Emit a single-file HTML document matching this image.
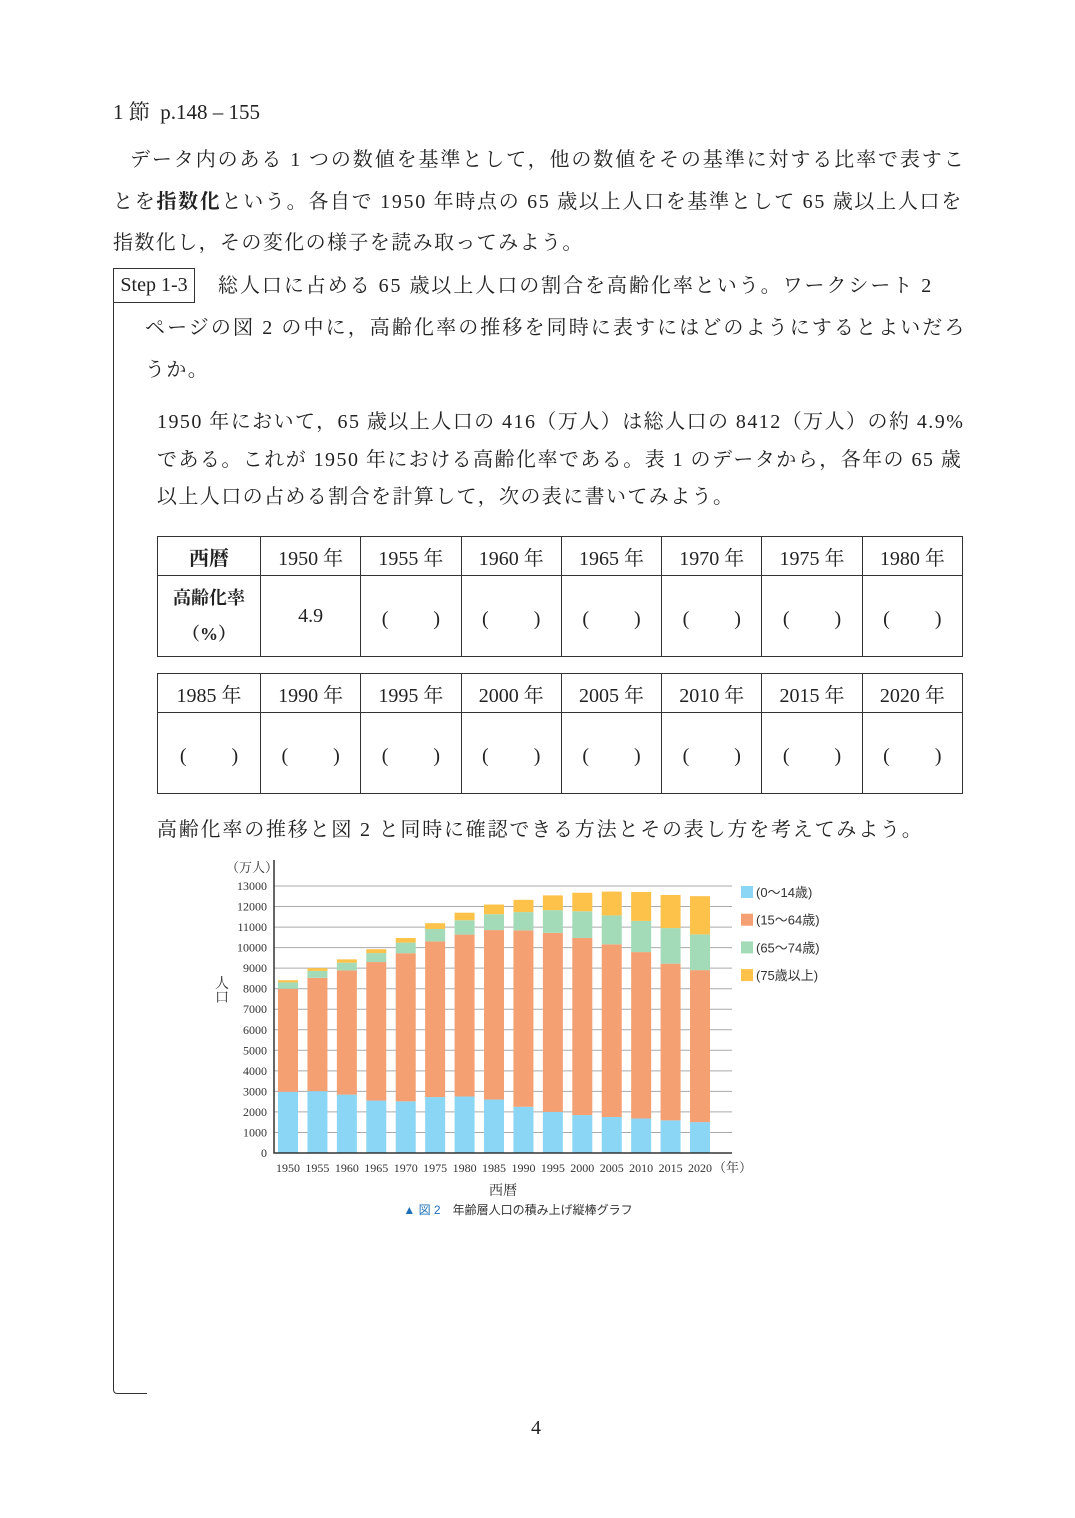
<!DOCTYPE html>
<html><head><meta charset="utf-8">
<style>
body{margin:0;width:1075px;height:1518px;background:#fff;position:relative;font-family:"Liberation Serif","Noto Serif CJK JP","Noto Serif CJK SC",serif;color:#222;}
.t{position:absolute;font-size:20px;white-space:nowrap;line-height:1;}
table{position:absolute;border-collapse:collapse;font-size:20px;}
td{border:1.5px solid #333;text-align:center;padding:0;}
</style></head><body>
<div class="t" style="left:113px;top:102px;font-size:21px">1 節&nbsp; p.148 – 155</div>
<div class="t" style="left:130px;top:150px;letter-spacing:1.9px">データ内のある 1 つの数値を基準として，他の数値をその基準に対する比率で表すこ</div>
<div class="t" style="left:113px;top:192px;letter-spacing:1.7px">とを<b>指数化</b>という。各自で 1950 年時点の 65 歳以上人口を基準として 65 歳以上人口を</div>
<div class="t" style="left:113px;top:233px;letter-spacing:1.4px">指数化し，その変化の様子を読み取ってみよう。</div>
<div style="position:absolute;left:113px;top:268px;width:80px;height:33px;border:1.5px solid #333;font-size:20px;line-height:33px;text-align:center;">Step 1-3</div>
<div class="t" style="left:218px;top:276px;letter-spacing:1.95px">総人口に占める 65 歳以上人口の割合を高齢化率という。ワークシート 2</div>
<div class="t" style="left:145px;top:318px;letter-spacing:2.1px">ページの図 2 の中に，高齢化率の推移を同時に表すにはどのようにするとよいだろ</div>
<div class="t" style="left:145px;top:360px;letter-spacing:1.4px">うか。</div>
<div style="position:absolute;left:113px;top:302px;width:33px;height:1091px;border-left:1.5px solid #333;border-bottom:1.5px solid #333;border-bottom-left-radius:4px"></div>
<div class="t" style="left:157px;top:412px;letter-spacing:1.45px">1950 年において，65 歳以上人口の 416（万人）は総人口の 8412（万人）の約 4.9%</div>
<div class="t" style="left:157px;top:450px;letter-spacing:1.45px">である。これが 1950 年における高齢化率である。表 1 のデータから，各年の 65 歳</div>
<div class="t" style="left:157px;top:487px;letter-spacing:1.4px">以上人口の占める割合を計算して，次の表に書いてみよう。</div>

<table style="left:157px;top:536px;width:806px">
<tr style="height:39px"><td style="width:102px"><b>西暦</b></td><td>1950 年</td><td>1955 年</td><td>1960 年</td><td>1965 年</td><td>1970 年</td><td>1975 年</td><td>1980 年</td></tr>
<tr style="height:81px"><td style="font-size:18px;line-height:36px"><b>高齢化率<br>（%）</b></td><td>4.9</td><td>(　　 )</td><td>(　　 )</td><td>(　　 )</td><td>(　　 )</td><td>(　　 )</td><td>(　　 )</td></tr>
</table>
<table style="left:157px;top:673px;width:806px">
<tr style="height:39px"><td style="width:102px">1985 年</td><td>1990 年</td><td>1995 年</td><td>2000 年</td><td>2005 年</td><td>2010 年</td><td>2015 年</td><td>2020 年</td></tr>
<tr style="height:81px"><td>(　　 )</td><td>(　　 )</td><td>(　　 )</td><td>(　　 )</td><td>(　　 )</td><td>(　　 )</td><td>(　　 )</td><td>(　　 )</td></tr>
</table>
<div class="t" style="left:157px;top:820px;letter-spacing:1.8px">高齢化率の推移と図 2 と同時に確認できる方法とその表し方を考えてみよう。</div>

<svg id="chart" style="position:absolute;left:0;top:0" width="1075" height="1518"></svg>
<div class="t" style="left:531px;top:1418px">4</div>

<script>
const years=[1950,1955,1960,1965,1970,1975,1980,1985,1990,1995,2000,2005,2010,2015,2020];
const age0_14=[2979,3012,2843,2553,2515,2722,2751,2603,2249,2001,1847,1752,1680,1589,1503];
const age15_64=[5017,5517,6047,6744,7212,7581,7883,8251,8590,8716,8622,8409,8103,7629,7400];
const age65_74=[309,338,375,438,516,602,699,773,892,1109,1301,1407,1517,1734,1742];
const age75up=[107,137,164,189,224,284,366,471,597,717,900,1160,1407,1612,1860];
const yTicks=[0,1000,2000,3000,4000,5000,6000,7000,8000,9000,10000,11000,12000,13000];
const seriesNames=['(0～14歳)','(15～64歳)','(65～74歳)','(75歳以上)'];
const colors=['#8bd6f5','#f5a072','#a3dbb8','#fcc24a'];
const NS='http://www.w3.org/2000/svg';
const svg=document.getElementById('chart');
const x0=274,x1=732,yB=1153,yT=886;
const yS=v=>yB-(v/13000)*(yB-yT);
const xS=i=>288+i*29.43;
function el(tag,attrs,txt){const e=document.createElementNS(NS,tag);for(const k in attrs)e.setAttribute(k,attrs[k]);if(txt!==undefined)e.textContent=txt;svg.appendChild(e);return e;}
const F='"Liberation Serif","Noto Serif CJK JP",serif';
yTicks.forEach(v=>{
  const g=el('line',{x1:x0,x2:x1,y1:yS(v),y2:yS(v),stroke:'#aaa','stroke-width':1});
  
  
  const t=el('text',{x:267,y:yS(v)+4,'text-anchor':'end','font-size':12,'font-family':F,fill:'#333'},v);
  
  
});
const series=[age0_14,age15_64,age65_74,age75up];
years.forEach((yr,i)=>{
  let base=0;
  series.forEach((s,k)=>{
    const r=el('rect',{x:xS(i)-10,y:yS(base+s[i]),width:20,height:yS(base)-yS(base+s[i]),fill:colors[k]});
    
    
    base+=s[i];
  });
  const t=el('text',{x:xS(i),y:1172,'text-anchor':'middle','font-size':12,'font-family':F,fill:'#333'},yr);
  
  
});
const ax=el('path',{d:`M${x0} 860 V${yB} H${x1}`,stroke:'#333','stroke-width':1.5,fill:'none'});


let u=el('text',{x:713,y:1172,'font-size':13,'font-family':F,fill:'#333'},'（年）');


u=el('text',{x:226,y:872,'font-size':13,'font-family':F,fill:'#333'},'（万人）');


u=el('text',{x:222,y:988,'text-anchor':'middle','font-size':14,'font-family':F,fill:'#333'},'人');


u=el('text',{x:222,y:1002,'text-anchor':'middle','font-size':14,'font-family':F,fill:'#333'},'口');


u=el('text',{x:503,y:1195,'text-anchor':'middle','font-size':14,'font-family':F,fill:'#333'},'西暦');


seriesNames.forEach((n,k)=>{
  const y=886+k*27.7;
  const r=el('rect',{x:741,y:y,width:12,height:12,fill:colors[k]});
  
  
  const t=el('text',{x:756,y:y+11,'font-size':13,'font-family':'"Liberation Sans","Noto Sans CJK JP",sans-serif',fill:'#333'},n);
  
  
});
u=el('text',{x:518,y:1214,'text-anchor':'middle','font-size':12,'font-family':'"Liberation Sans","Noto Sans CJK JP",sans-serif',fill:'#333'},'');


const s1=document.createElementNS(NS,'tspan');s1.setAttribute('fill','#1d6fb8');s1.textContent='▲ 図 2　';u.appendChild(s1);
const s2=document.createElementNS(NS,'tspan');s2.textContent='年齢層人口の積み上げ縦棒グラフ';u.appendChild(s2);
</script>
</body></html>
